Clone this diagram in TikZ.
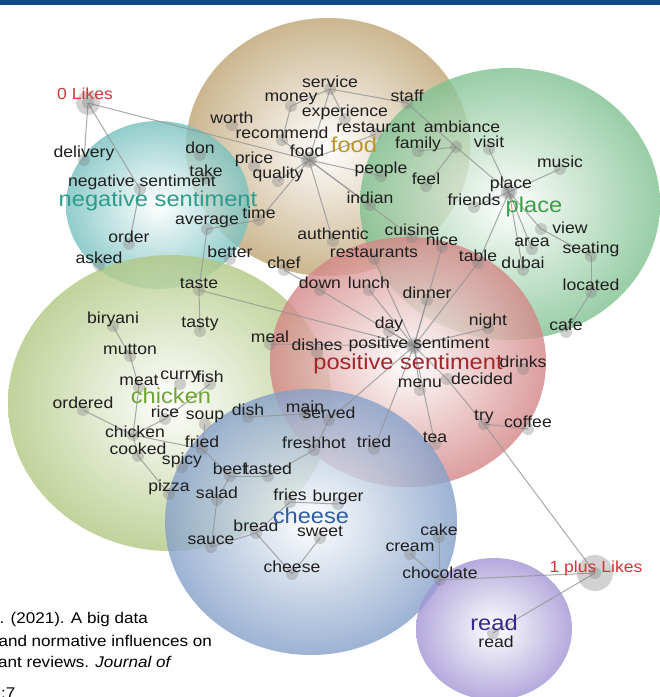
\documentclass[tikz,border=0pt]{standalone}
\usepackage{fontspec}
\setmainfont{Liberation Sans}[FakeStretch=1.1]
\definecolor{topbar}{HTML}{0D4A8A}
\definecolor{cfood}{HTML}{BFA474}
\definecolor{cplace}{HTML}{7FC190}
\definecolor{cneg}{HTML}{76C1BF}
\definecolor{cchick}{HTML}{B2C883}
\definecolor{cpos}{HTML}{D48585}
\definecolor{ccheese}{HTML}{84A0C9}
\definecolor{cread}{HTML}{A295D4}
\definecolor{likered}{HTML}{D03838}
\definecolor{tneg}{HTML}{2F9B8B}
\definecolor{tfood}{HTML}{B8952E}
\definecolor{tplace}{HTML}{3B9E45}
\definecolor{tpos}{HTML}{A3262A}
\definecolor{tchick}{HTML}{6FA536}
\definecolor{tcheese}{HTML}{2C5DA6}
\definecolor{tread}{HTML}{35288A}
\newcommand\clusterblob[5]{\shade[inner color=white, outer color=#5, fill opacity=0.8] (#1,#2) ellipse [x radius=#3pt, y radius=#4pt];}
\newcommand\wordlist{%
\wordentry{service}{330}{82}{service}%
\wordentry{money}{291}{99}{money}%
\wordentry{experience}{345}{112}{experience}%
\wordentry{staff}{407}{96}{staff}%
\wordentry{worth}{232}{118}{worth}%
\wordentry{recommend}{282}{133}{recommend}%
\wordentry{restaurant}{376}{127}{restaurant}%
\wordentry{ambiance}{462}{127}{ambiance}%
\wordentry{family}{418}{144}{family}%
\wordentry{foodsmall}{307}{151}{food}%
\wordentry{don}{200}{148}{don}%
\wordentry{price}{254}{159}{price}%
\wordentry{people}{381}{169}{people}%
\wordentry{feel}{426}{179}{feel}%
\wordentry{take}{206}{171}{take}%
\wordentry{quality}{278}{174}{quality}%
\wordentry{indian}{370}{198}{indian}%
\wordentry{time}{259}{213}{time}%
\wordentry{average}{207}{222}{average}%
\wordentry{authentic}{333}{234}{authentic}%
\wordentry{cuisine}{412}{230}{cuisine}%
\wordentry{nice}{442}{240}{nice}%
\wordentry{restaurants}{374}{252}{restaurants}%
\wordentry{better}{230}{252}{better}%
\wordentry{chef}{284}{263}{chef}%
\wordentry{zero}{85}{94}{\color{likered}0 Likes}%
\wordentry{delivery}{84}{153}{delivery}%
\wordentry{negsmall}{142}{182}{negative sentiment}%
\wordentry{order}{129}{237}{order}%
\wordentry{asked}{99}{258}{asked}%
\wordentry{visit}{489}{142}{visit}%
\wordentry{music}{560}{162}{music}%
\wordentry{placesmall}{511}{184}{place}%
\wordentry{friends}{474}{200}{friends}%
\wordentry{view}{570}{228}{view}%
\wordentry{area}{532}{242}{area}%
\wordentry{seating}{591}{249}{seating}%
\wordentry{table}{478}{256}{table}%
\wordentry{dubai}{523}{263}{dubai}%
\wordentry{located}{591}{285}{located}%
\wordentry{cafe}{566}{325}{cafe}%
\wordentry{down}{320}{283}{down}%
\wordentry{lunch}{369}{283}{lunch}%
\wordentry{dinner}{427}{293}{dinner}%
\wordentry{night}{488}{321}{night}%
\wordentry{day}{389}{324}{day}%
\wordentry{dishes}{317}{345}{dishes}%
\wordentry{possmall}{419}{344}{positive sentiment}%
\wordentry{drinks}{523}{362}{drinks}%
\wordentry{menu}{420}{383}{menu}%
\wordentry{decided}{482}{379}{decided}%
\wordentry{try}{484}{417}{try}%
\wordentry{coffee}{528}{422}{coffee}%
\wordentry{tea}{435}{437}{tea}%
\wordentry{tried}{374}{442}{tried}%
\wordentry{main}{305}{407}{main}%
\wordentry{served}{329}{413}{served}%
\wordentry{freshhot}{314}{443}{freshhot}%
\wordentry{taste}{199}{283}{taste}%
\wordentry{biryani}{113}{319}{biryani}%
\wordentry{tasty}{200}{324}{tasty}%
\wordentry{meal}{270}{337}{meal}%
\wordentry{mutton}{130}{349}{mutton}%
\wordentry{meat}{139}{380}{meat}%
\wordentry{curry}{180}{377}{curry}%
\wordentry{fish}{210}{377}{fish}%
\wordentry{ordered}{83}{403}{ordered}%
\wordentry{rice}{165}{412}{rice}%
\wordentry{soup}{205}{417}{soup}%
\wordentry{dish}{248}{410}{dish}%
\wordentry{chickensmall}{135}{432}{chicken}%
\wordentry{cooked}{138}{449}{cooked}%
\wordentry{fried}{202}{442}{fried}%
\wordentry{spicy}{182}{460}{spicy}%
\wordentry{beef}{230}{469}{beef}%
\wordentry{tasted}{268}{469}{tasted}%
\wordentry{pizza}{169}{487}{pizza}%
\wordentry{salad}{217}{493}{salad}%
\wordentry{fries}{290}{495}{fries}%
\wordentry{burger}{338}{497}{burger}%
\wordentry{bread}{256}{526}{bread}%
\wordentry{sweet}{320}{531}{sweet}%
\wordentry{sauce}{211}{540}{sauce}%
\wordentry{cheesesmall}{292}{567}{cheese}%
\wordentry{cake}{439}{530}{cake}%
\wordentry{cream}{410}{547}{cream}%
\wordentry{chocolate}{440}{573}{chocolate}%
\wordentry{oneplus}{596}{568}{\color{likered}1 plus Likes}%
\wordentry{readsmall}{496}{642}{read}%
}
\begin{document}
\begin{tikzpicture}[x=1pt,y=-1pt,
  wtext/.style={font=\fontsize{16}{18}\selectfont, text=black!88, inner sep=0pt},
  biglabel/.style={font=\fontsize{21.5}{24}\selectfont, inner sep=0pt},
  edge/.style={draw=black!42, line width=1pt, opacity=0.8},
  dotc/.style={fill=black!50, fill opacity=0.35},
  cite/.style={font=\fontsize{15.5}{18}\selectfont, text=black, inner sep=0pt}]
\useasboundingbox (0,0) rectangle (660,697);
\clip (0,0) rectangle (660,697);
\fill[white] (0,0) rectangle (660,697);
% clusters
\clusterblob{328}{147}{142}{129}{cfood}
\clusterblob{510}{204}{150}{136}{cplace}
\clusterblob{158}{205}{92}{84}{cneg}
\clusterblob{170}{403}{162}{148}{cchick}
\clusterblob{408}{362}{138}{125}{cpos}
\clusterblob{311}{522}{146}{133}{ccheese}
\clusterblob{494}{629}{78}{71}{cread}
\fill[topbar] (0,0) rectangle (660,4.5);
% dot coordinates
\def\wordentry#1#2#3#4{\coordinate (#1-d) at (#2,#3+7);}
\wordlist
\coordinate (zero-d) at (88,103);
\coordinate (foodsmall-d) at (309,160);
\coordinate (possmall-d) at (414,346);
\coordinate (placesmall-d) at (509,192);
\coordinate (negsmall-d) at (140,189);
\coordinate (view-d) at (541,229);
\coordinate (ambiance-d) at (456,147);
\coordinate (decided-d) at (447,379);
\coordinate (oneplus-d) at (595,573);
\coordinate (readsmall-d) at (493,633);
\coordinate (chickensmall-d) at (133,435);
\coordinate (chocolate-d) at (440,580);
% edges
\foreach \a/\b in {zero/delivery, zero/negsmall, zero/foodsmall, negsmall/order,
  average/taste, average/time, time/foodsmall, taste/tasty, taste/possmall,
  foodsmall/service, foodsmall/recommend, foodsmall/restaurant, foodsmall/people,
  foodsmall/indian, foodsmall/authentic, foodsmall/quality, foodsmall/cuisine,
  service/money, service/staff, service/experience, money/recommend,
  staff/ambiance, ambiance/family, ambiance/feel, ambiance/placesmall, visit/placesmall,
  placesmall/music, placesmall/friends, placesmall/view, placesmall/area,
  placesmall/dubai, placesmall/table, view/seating, seating/located, located/cafe,
  table/possmall, nice/possmall, restaurants/possmall, dinner/possmall, lunch/possmall,
  down/possmall, day/possmall, night/possmall, meal/possmall, possmall/decided,
  possmall/tea, possmall/tried, possmall/served, possmall/menu, chef/down,
  decided/try, try/coffee, try/oneplus,
  dish/main, tasted/freshhot, served/freshhot, beef/tasted, fried/beef, beef/salad,
  salad/sauce, sauce/bread, bread/cheesesmall, cheesesmall/sweet, bread/fries, fries/burger,
  biryani/mutton, mutton/meat, meat/chickensmall, chickensmall/ordered, chickensmall/rice,
  rice/fish, chickensmall/fried, chickensmall/cooked, cooked/pizza, soup/fried,
  cake/chocolate, cream/chocolate, chocolate/oneplus, oneplus/readsmall}
  {\draw[edge] (\a-d) -- (\b-d);}
% dots
\def\wordentry#1#2#3#4{\fill[dotc] (#1-d) circle (6pt);}
\wordlist
\fill[dotc] (zero-d) circle (12pt);
\fill[dotc] (oneplus-d) circle (18pt);
\fill[dotc] (foodsmall-d) circle (8pt);
\fill[dotc] (possmall-d) circle (8pt);
\fill[dotc] (placesmall-d) circle (8pt);
% words
\def\wordentry#1#2#3#4{\node[wtext] (#1) at (#2,#3) {#4};}
\wordlist
% cluster labels
\node[biglabel, text=tneg] (negbig) at (158,201) {negative sentiment};
\node[biglabel, text=tfood] (foodbig) at (354,145) {food};
\node[biglabel, text=tplace] (placebig) at (534,207) {place};
\node[biglabel, text=tpos] (posbig) at (408,364) {positive sentiment};
\node[biglabel, text=tchick] (chickenbig) at (171,396) {chicken};
\node[biglabel, text=tcheese] (cheesebig) at (311,516) {cheese};
\node[biglabel, text=tread] (readbig) at (494,623) {read};
% citation fragment
\node[cite, anchor=east] (cite1) at (148,619) {. (2021). A big data};
\node[cite, anchor=east] (cite2) at (212,641) {and normative influences on};
\node[cite, anchor=east] (cite3) at (172,662) {ant reviews. \textit{Journal of}};
\node[cite, anchor=west] (cite4) at (1,693) {:7};
\end{tikzpicture}
\end{document}
